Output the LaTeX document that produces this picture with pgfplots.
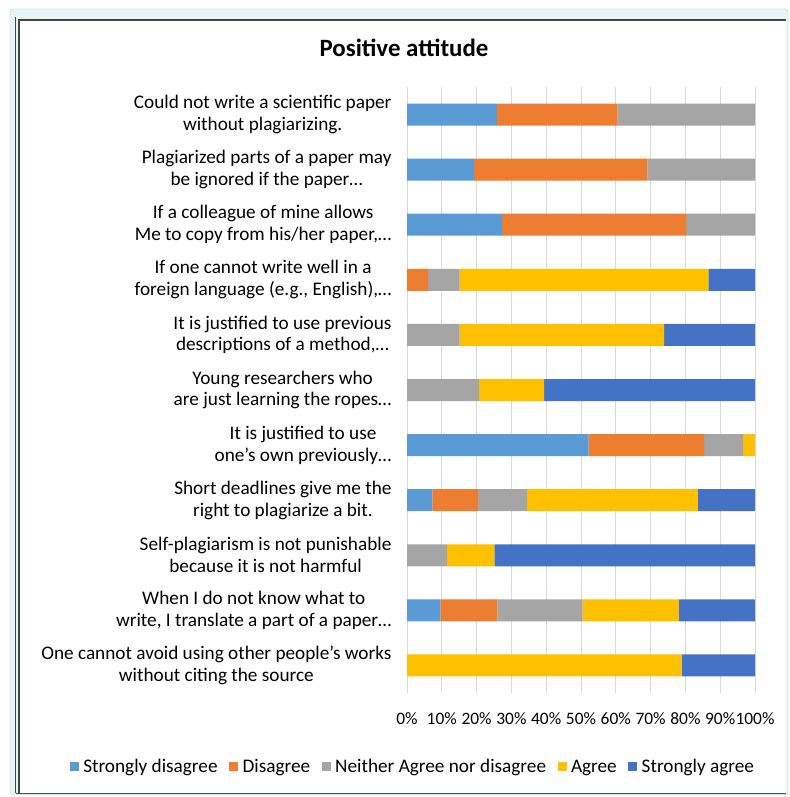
\documentclass[border=0pt]{standalone}
\usepackage{pgfplots}
\pgfplotsset{compat=1.18}
\usepackage{fontspec}
\setmainfont{Carlito}
\definecolor{cSD}{HTML}{5B9BD5}
\definecolor{cD}{HTML}{ED7D31}
\definecolor{cN}{HTML}{A5A5A5}
\definecolor{cA}{HTML}{FFC000}
\definecolor{cSA}{HTML}{4472C4}
\newcommand{\el}{\ldots}
\begin{document}
\begin{tikzpicture}
\useasboundingbox (0,0) rectangle (790bp,797bp);
% window frame
\fill[white] (0,0) rectangle (790bp,797bp);
\draw[draw={rgb,255:red,190;green,205;blue,205}, fill={rgb,255:red,232;green,245;blue,245}, rounded corners=3bp] (10bp,2bp) rectangle (788bp,788bp);
\fill[white] (19bp,4bp) rectangle (786bp,777bp);
\draw[gray!55!black, line width=1.2bp] (19bp,4bp) -- (19bp,777bp) -- (786bp,777bp);
\draw[gray!55!black, line width=1bp] (15.5bp,4bp) -- (15.5bp,780bp);
\draw[gray!55!black, line width=1bp] (15.5bp,3.5bp) -- (786bp,3.5bp);
\node[font=\fontsize{25}{29}\selectfont\bfseries] at (404bp,749bp) {Positive attitude};
\begin{axis}[
  at={(407bp,104bp)}, anchor=south west,
  scale only axis, width=348bp, height=606bp,
  xbar stacked, bar width=22bp,
  xmin=0, xmax=100,
  ymin=-0.5, ymax=10.5, y dir=reverse,
  axis line style={draw=none}, tick style={draw=none},
  xmajorgrids, major grid style={draw={rgb,255:red,217;green,217;blue,217}, line width=0.8bp},
  xtick={0,10,20,30,40,50,60,70,80,90,100},
  xticklabel={\pgfmathprintnumber{\tick}\%},
  /pgf/number format/assume math mode=true,
  xticklabel style={font=\fontsize{17.5}{20}\selectfont, yshift=-16bp},
  ytick={0,1,2,3,4,5,6,7,8,9,10},
  yticklabels={{Could not write a scientific paper\\without plagiarizing.},
    {Plagiarized parts of a paper may\\be ignored if the paper\el},
    {If a colleague of mine allows\\Me to copy from his/her paper,\el},
    {If one cannot write well in a\\foreign language (e.g., English),\el},
    {It is justified to use previous\\descriptions of a method,\el},
    {Young researchers who\\are just learning the ropes\el},
    {It is justified to use\\one’s own previously\el},
    {Short deadlines give me the\\right to plagiarize a bit.},
    {Self-plagiarism is not punishable\\because it is not harmful},
    {When I do not know what to\\write, I translate a part of a paper\el},
    {One cannot avoid using other people’s works\\without citing the source}},
  yticklabel style={align=center, anchor=east, font=\fontsize{19.3}{22}\selectfont, xshift=-12bp},
  legend columns=5,
  legend style={at={(0.017,-0.122)}, anchor=center, draw=none, fill=none,
    font=\fontsize{19.3}{22}\selectfont, column sep=0pt,
    /tikz/every odd column/.append style={column sep=2.5bp},
    /tikz/every even column/.append style={column sep=9.5bp}},
  legend image code/.code={\fill[#1] (0bp,-4.5bp) rectangle (9bp,4.5bp);},
]
\addplot[fill=cSD, draw=none] coordinates {(25.8,0) (19.3,1) (27.3,2) (0,3) (0,4) (0,5) (52.2,6) (7.3,7) (0,8) (9.6,9) (0,10)};
\addplot[fill=cD, draw=none] coordinates {(34.7,0) (49.8,1) (52.9,2) (6.1,3) (0,4) (0,5) (33.2,6) (13.1,7) (0,8) (16.4,9) (0,10)};
\addplot[fill=cN, draw=none] coordinates {(39.5,0) (30.9,1) (19.8,2) (9.0,3) (15.1,4) (20.7,5) (11.2,6) (14.1,7) (11.5,8) (24.5,9) (0,10)};
\addplot[fill=cA, draw=none] coordinates {(0,0) (0,1) (0,2) (71.5,3) (58.8,4) (18.7,5) (3.4,6) (49.1,7) (13.6,8) (27.6,9) (78.9,10)};
\addplot[fill=cSA, draw=none] coordinates {(0,0) (0,1) (0,2) (13.4,3) (26.1,4) (60.6,5) (0,6) (16.4,7) (74.9,8) (21.9,9) (21.1,10)};
\legend{Strongly disagree, Disagree, Neither Agree nor disagree, Agree, Strongly agree}
\end{axis}
\end{tikzpicture}
\end{document}
